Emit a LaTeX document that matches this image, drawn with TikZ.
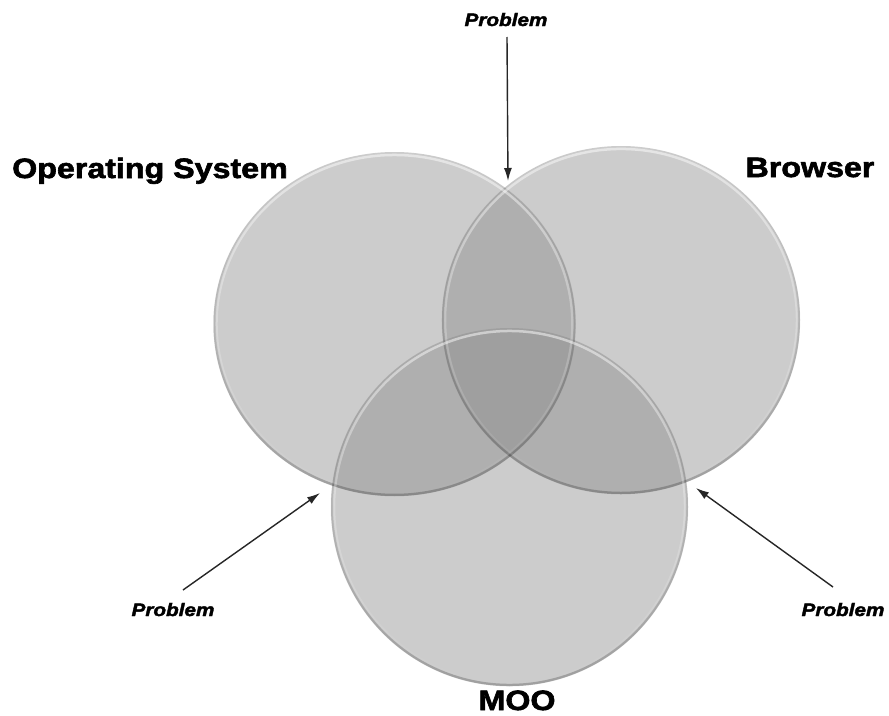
\documentclass[tikz,border=0pt]{standalone}
\usepackage{fontspec}
\newfontfamily\heavyfont{Liberation Sans}[UprightFont={Liberation Sans Bold}, ItalicFont={Liberation Sans Bold Italic}, FakeStretch=1.15, FakeBold=2.2]
\usetikzlibrary{arrows.meta,shapes.geometric,fadings}
\begin{document}
\begin{tikzpicture}[x=1pt,y=-1pt,
  venn/.style={ellipse, inner sep=0pt, outer sep=0pt, fill=black!46, fill opacity=0.43},
  rimdark/.style={draw=black, line width=2.5pt, draw opacity=0.22, path fading=north},
  rimlight/.style={draw=white, line width=2.5pt, draw opacity=0.5, path fading=south},
  biglabel/.style={font=\heavyfont\fontsize{28}{32}\selectfont, anchor=base, inner sep=0pt},
  problabel/.style={font=\heavyfont\itshape\fontsize{18}{21}\selectfont, anchor=base, inner sep=0pt},
  arr/.style={-{Latex[length=13pt,width=8pt]}, line width=1.4pt, black!85}]
\fill[white] (0,0) rectangle (889,715);
\useasboundingbox (0,0) rectangle (889,715);
% circles
\node[venn, minimum width=362pt, minimum height=344pt] (os) at (394.5,324) {};
\node[venn, minimum width=358pt, minimum height=348pt] (br) at (621,320) {};
\node[venn, minimum width=357pt, minimum height=358pt] (moo) at (509.5,507) {};
\draw[rimdark] (os.center) ellipse [x radius=180, y radius=171];
\draw[rimdark] (br.center) ellipse [x radius=178, y radius=173];
\draw[rimdark] (moo.center) ellipse [x radius=177.5, y radius=178];
\draw[rimlight] (os.center) ellipse [x radius=178, y radius=169];
\draw[rimlight] (br.center) ellipse [x radius=176, y radius=171];
\draw[rimlight] (moo.center) ellipse [x radius=175.5, y radius=176];
% labels
\node[biglabel] (oslabel) at (150,178) {Operating System};
\node[biglabel] (brlabel) at (810,177) {Browser};
\node[biglabel] (moolabel) at (517,710) {MOO};
\node[problabel] (ptop) at (506,26) {Problem};
\node[problabel] (pleft) at (173,616) {Problem};
\node[problabel] (pright) at (843,616) {Problem};
% arrows
\coordinate (sT) at (507,37);
\coordinate (tT) at (508,181);
\coordinate (sL) at (183,590);
\coordinate (tL) at (320,493);
\coordinate (sR) at (833,587);
\coordinate (tR) at (696,488);
\draw[arr] (sT) -- (tT);
\draw[arr] (sL) -- (tL);
\draw[arr] (sR) -- (tR);
\end{tikzpicture}
\end{document}
